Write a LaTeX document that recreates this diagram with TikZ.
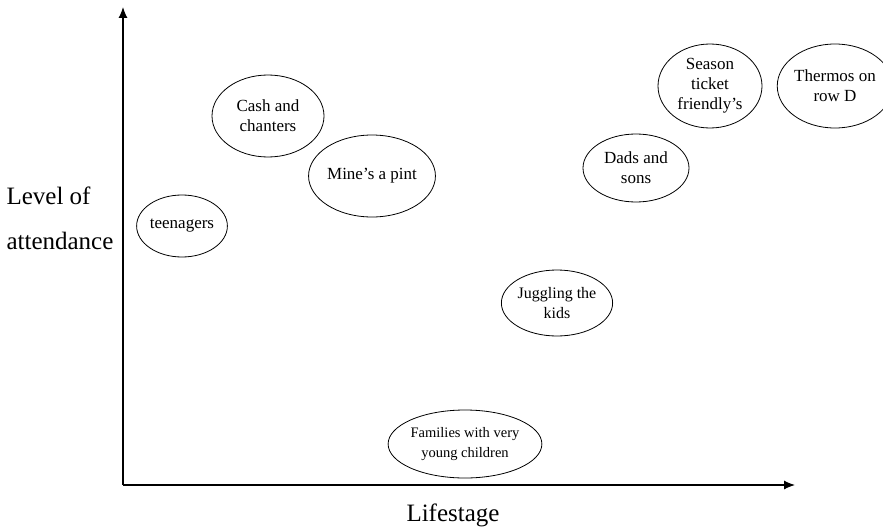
\documentclass[tikz,border=0pt]{standalone}
\usepackage{fontspec}
\setmainfont{Liberation Serif}
\usetikzlibrary{arrows.meta, shapes.geometric}

\begin{document}
\begin{tikzpicture}[x=1pt, y=-1pt]
        \tikzset{
            segment/.style={draw, shape = ellipse, inner sep=0pt, line width=0.8pt, align=center,
                font=\fontsize{17}{20}\selectfont},
            axis_line/.style={line width=1.1pt, -{Latex[length=11pt, width=9pt]}},
            axis_label/.style={font=\fontsize{25}{45}\selectfont, align=left}
        }
        \useasboundingbox (0,0) rectangle (883,527);
        % axes
        \coordinate (origin) at (123,485);
        \coordinate (ytop) at (123,7);
        \coordinate (xend) at (795,485);
        \draw[axis_line] (origin) -- (ytop);
        \draw[axis_line] (origin) -- (xend);
        \node[axis_label, anchor=west] (attendance) at (3,218) {Level of\\attendance};
        \node[axis_label] (lifestage) at (453,515) {Lifestage};
        % segments
        \node[segment, minimum width=112pt, minimum height=82pt] (cash) at (268,116) {Cash and\\chanters};
        \node[segment, minimum width=112pt, minimum height=82pt] (pint) at (372,176) {Mine's a pint};
        \node[segment, minimum width=90pt, minimum height=62pt] (teens) at (182,226) {teenagers};
        \node[segment, minimum width=104pt, minimum height=84pt] (season) at (710,86) {Season\\ticket\\friendly's};
        \node[segment, minimum width=100pt, minimum height=84pt] (thermos) at (835,86) {Thermos on\\row D};
        \node[segment, minimum width=106pt, minimum height=68pt] (dads) at (636,168) {Dads and\\sons};
        \node[segment, minimum width=106pt, minimum height=66pt, font=\fontsize{16}{20}\selectfont] (juggling) at (557,303) {Juggling the\\kids};
        \node[segment, minimum width=144pt, minimum height=68pt, font=\fontsize{14.5}{20}\selectfont] (families) at (465,444) {Families with very\\young children};
\end{tikzpicture}
\end{document}
